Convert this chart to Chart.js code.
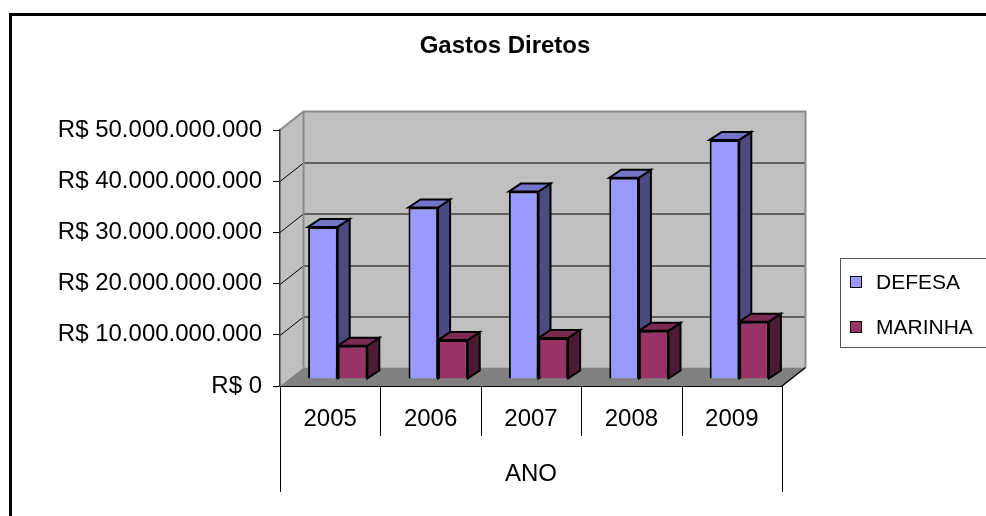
<!DOCTYPE html>
<html>
<head>
<meta charset="utf-8">
<title>Gastos Diretos</title>
<script src="https://cdn.jsdelivr.net/npm/chart.js@4.4.1/dist/chart.umd.min.js"></script>
<style>
  html, body { margin: 0; padding: 0; background: #fff; }
  #wrap { width: 986px; height: 516px; }
</style>
</head>
<body>
<div id="wrap"><canvas id="gastosChart" width="986" height="516"></canvas></div>
<script>
// data
const anos = ['2005', '2006', '2007', '2008', '2009'];
const defesa = [29.7e9, 33.5e9, 36.6e9, 39.3e9, 46.7e9];
const marinha = [6.5e9, 7.6e9, 8.0e9, 9.4e9, 11.2e9];
const yTicks = [0, 10e9, 20e9, 30e9, 40e9, 50e9];

const FONT = 'Liberation Sans, Arial, sans-serif';
const WALL = { dx: 23.5, dy: -18.5 };   // depth of the back wall
const BAR_SHIFT = { dx: 7.5, dy: -7 };  // bars sit a bit behind the front plane
const BAR_DEPTH = { dx: 12, dy: -8 };

const faceColors = [
    { top: '#7474C8', side: '#4B4B82' },
    { top: '#7A2952', side: '#4D1A33' }
];

const formatReais = (v) => 'R$ ' + Math.round(v).toString().replace(/\B(?=(\d{3})+(?!\d))/g, '.');

const chart3d = {
    id: 'chart3d',
    beforeDraw: (chart) => {
        const ctx = chart.ctx;
        const area = chart.chartArea;
        const y = chart.scales.y;
        const L = area.left, R = area.right, T = area.top, B = area.bottom;
        ctx.save();
        ctx.fillStyle = '#fff';
        ctx.fillRect(0, 0, chart.width, chart.height);

        // outer frame
        ctx.strokeStyle = '#000';
        ctx.lineWidth = 3;
        ctx.strokeRect(10.5, 14.5, 1000, 600);

        // back wall
        ctx.fillStyle = '#C0C0C0';
        ctx.fillRect(L + WALL.dx, T + WALL.dy, R - L, B - T);
        // left wall
        ctx.beginPath();
        ctx.moveTo(L, T); ctx.lineTo(L + WALL.dx, T + WALL.dy);
        ctx.lineTo(L + WALL.dx, B + WALL.dy); ctx.lineTo(L, B);
        ctx.closePath();
        ctx.fill();
        // floor
        ctx.fillStyle = '#808080';
        ctx.beginPath();
        ctx.moveTo(L, B); ctx.lineTo(L + WALL.dx, B + WALL.dy);
        ctx.lineTo(R + WALL.dx, B + WALL.dy); ctx.lineTo(R, B);
        ctx.closePath();
        ctx.fill();

        // gridlines on back and left walls
        ctx.strokeStyle = '#000';
        ctx.lineWidth = 1;
        yTicks.slice(1, -1).forEach(v => {
            const py = Math.round(y.getPixelForValue(v)) + 0.5;
            ctx.beginPath();
            ctx.moveTo(L, py);
            ctx.lineTo(L + WALL.dx, py + WALL.dy);
            ctx.lineTo(R + WALL.dx, py + WALL.dy);
            ctx.stroke();
        });

        // wall edges
        ctx.strokeStyle = '#8A8A8A';
        ctx.lineWidth = 2;
        ctx.beginPath();
        ctx.moveTo(L, T); ctx.lineTo(L + WALL.dx, T + WALL.dy);
        ctx.lineTo(R + WALL.dx, T + WALL.dy); ctx.lineTo(R + WALL.dx, B + WALL.dy);
        ctx.moveTo(L + WALL.dx, T + WALL.dy); ctx.lineTo(L + WALL.dx, B + WALL.dy);
        ctx.stroke();
        ctx.strokeStyle = '#000';
        ctx.lineWidth = 1.5;
        ctx.beginPath();
        ctx.moveTo(R, B); ctx.lineTo(R + WALL.dx, B + WALL.dy);
        ctx.stroke();
        ctx.restore();
    },
    beforeDatasetsDraw: (chart) => {
        const ctx = chart.ctx;
        ctx.save();
        ctx.translate(BAR_SHIFT.dx, BAR_SHIFT.dy);
        // side and top faces first, the library draws the fronts over them
        chart.data.datasets.forEach((ds, di) => {
            const meta = chart.getDatasetMeta(di);
            meta.data.forEach(bar => {
                const p = bar.getProps(['x', 'y', 'base', 'width'], true);
                const l = p.x - p.width / 2, r = p.x + p.width / 2;
                const t = p.y, b = p.base;
                ctx.lineWidth = 2;
                ctx.strokeStyle = '#000';
                ctx.lineJoin = 'miter';
                ctx.fillStyle = faceColors[di].side;
                ctx.beginPath();
                ctx.moveTo(r, t); ctx.lineTo(r + BAR_DEPTH.dx, t + BAR_DEPTH.dy);
                ctx.lineTo(r + BAR_DEPTH.dx, b + BAR_DEPTH.dy); ctx.lineTo(r, b);
                ctx.closePath();
                ctx.fill(); ctx.stroke();
                ctx.fillStyle = faceColors[di].top;
                ctx.beginPath();
                ctx.moveTo(l, t); ctx.lineTo(l + BAR_DEPTH.dx, t + BAR_DEPTH.dy);
                ctx.lineTo(r + BAR_DEPTH.dx, t + BAR_DEPTH.dy); ctx.lineTo(r, t);
                ctx.closePath();
                ctx.fill(); ctx.stroke();
            });
        });
    },
    afterDatasetsDraw: (chart) => {
        chart.ctx.restore();
    },
    afterDraw: (chart) => {
        const ctx = chart.ctx;
        const x = chart.scales.x;
        const area = chart.chartArea;
        const step = x.getPixelForValue(1) - x.getPixelForValue(0);
        ctx.save();
        ctx.strokeStyle = '#000';
        ctx.lineWidth = 1;
        for (let i = 0; i <= anos.length; i++) {
            const px = Math.round(x.getPixelForValue(i) - step / 2) + 0.5;
            const outer = (i === 0 || i === anos.length);
            ctx.beginPath();
            ctx.moveTo(px, area.bottom);
            ctx.lineTo(px, area.bottom + (outer ? 106 : 50));
            ctx.stroke();
        }

        // legend
        ctx.strokeStyle = '#555';
        ctx.strokeRect(840.5, 258.5, 160, 89);
        ctx.font = '21px ' + FONT;
        ctx.textBaseline = 'middle';
        ctx.textAlign = 'left';
        chart.data.datasets.forEach((ds, i) => {
            const cy = 282 + i * 45;
            ctx.fillStyle = ds.backgroundColor;
            ctx.fillRect(850, cy - 6, 12, 12);
            ctx.strokeStyle = '#000';
            ctx.strokeRect(850.5, cy - 5.5, 11, 11);
            ctx.fillStyle = '#000';
            ctx.fillText(ds.label, 876, cy + 1);
        });
        ctx.restore();
    }
};

const ctx = document.getElementById('gastosChart').getContext('2d');
new Chart(ctx, {
    type: 'bar',
    data: {
        labels: anos,
        datasets: [
            { label: 'DEFESA', data: defesa, backgroundColor: '#9999FF', borderColor: '#000', borderWidth: 2, yAxisID: 'y' },
            { label: 'MARINHA', data: marinha, backgroundColor: '#993366', borderColor: '#000', borderWidth: 2, yAxisID: 'y' }
        ]
    },
    options: {
        responsive: false,
        animation: false,
        devicePixelRatio: 1,
        layout: { padding: { left: 24, right: 0, top: 0, bottom: 0 } },
        datasets: { bar: { categoryPercentage: 0.59, barPercentage: 1.0, clip: false } },
        plugins: {
            legend: { display: false },
            tooltip: { enabled: false },
            title: {
                display: true,
                text: 'Gastos Diretos',
                color: '#000',
                font: { family: FONT, size: 24, weight: 'bold', lineHeight: 1.2 },
                padding: { top: 32, bottom: 69.2 }
            }
        },
        scales: {
            x: {
                grid: { display: false },
                border: { display: true, color: '#000', width: 1 },
                ticks: { color: '#000', padding: 11, font: { family: FONT, size: 24 } },
                title: {
                    display: true,
                    text: 'ANO',
                    color: '#000',
                    font: { family: FONT, size: 24, lineHeight: 1.2 },
                    padding: { top: 27, bottom: 27 }
                },
                afterFit: (s) => { s.height = 130; }
            },
            y: {
                min: 0,
                max: 50e9,
                afterBuildTicks: (s) => { s.ticks = yTicks.map(v => ({ value: v })); },
                grid: { drawOnChartArea: false, drawTicks: true, tickLength: 7, color: '#000' },
                border: { display: true, color: '#333', width: 1.5 },
                ticks: {
                    color: '#000',
                    padding: 11,
                    font: { family: FONT, size: 24 },
                    callback: (v) => formatReais(v)
                },
                afterFit: (s) => { s.width = 256; }
            },
            yR: {
                position: 'right',
                display: true,
                min: 0,
                max: 1,
                grid: { display: false },
                border: { display: false },
                ticks: { display: false },
                afterFit: (s) => { s.width = 204; }
            }
        }
    },
    plugins: [chart3d]
});
</script>
</body>
</html>
